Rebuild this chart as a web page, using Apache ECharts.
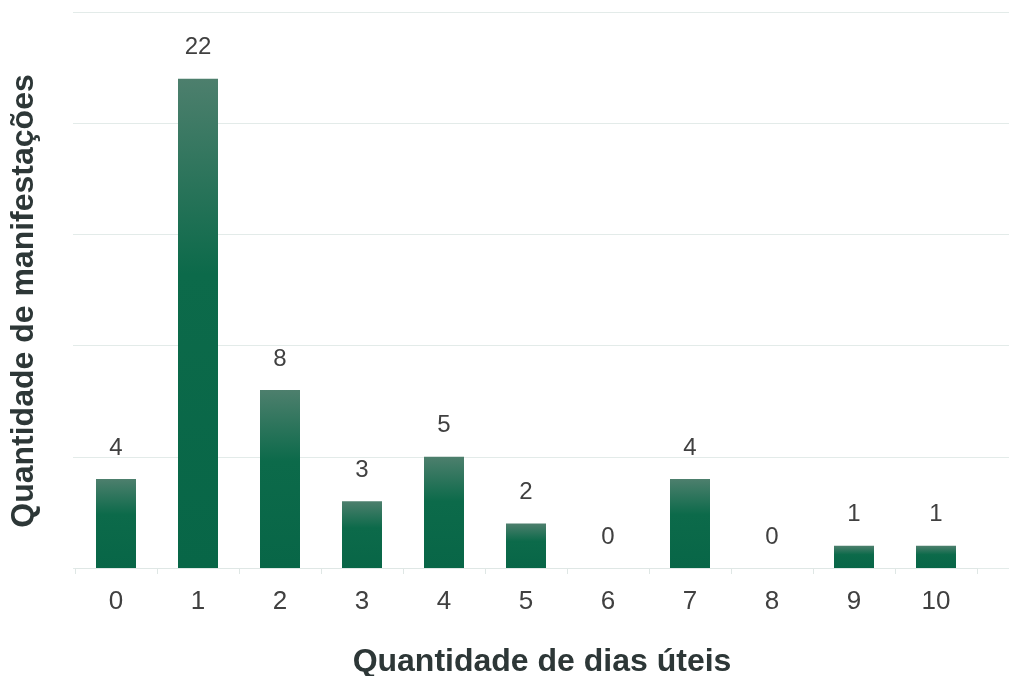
<!DOCTYPE html>
<html>
<head>
<meta charset="utf-8">
<script src="https://cdn.jsdelivr.net/npm/echarts@6/dist/echarts.min.js"></script>
<style>html,body{margin:0;padding:0;background:#fff;}#c{width:1009px;height:676px;}</style>
</head>
<body>
<div id="c"></div>
<script>
const categories = ['0','1','2','3','4','5','6','7','8','9','10'];
const values = [4, 22, 8, 3, 5, 2, 0, 4, 0, 1, 1];
const yTicks = [0, 5, 10, 15, 20, 25];

const chart = echarts.init(document.getElementById('c'));
const font = '"Liberation Sans", Arial, sans-serif';
chart.setOption({
  animation: false,
  backgroundColor: '#ffffff',
  grid: [
    {left: 75, top: 12, width: 902, height: 556, containLabel: false, outerBoundsMode: 'none'},
    {left: 73, top: 12, right: 0, height: 556, containLabel: false, outerBoundsMode: 'none'}
  ],
  xAxis: [
    {
      type: 'category', gridIndex: 0, data: categories,
      axisLine: {show: true, lineStyle: {color: '#dfe7e5', width: 1}},
      axisTick: {show: true, length: 6, lineStyle: {color: '#dfe7e5'}},
      axisLabel: {color: '#404040', fontSize: 26, fontFamily: font, margin: 21},
      name: 'Quantidade de dias úteis', nameLocation: 'middle', nameGap: 78,
      nameTextStyle: {color: '#2d3737', fontSize: 32, fontWeight: 'bold', fontFamily: font, padding: [0, 0, 0, 32]}
    },
    {type: 'value', gridIndex: 1, show: false, min: 0, max: 1}
  ],
  yAxis: [
    {
      type: 'value', gridIndex: 0, min: yTicks[0], max: yTicks[yTicks.length-1], interval: yTicks[1]-yTicks[0],
      axisLine: {show: false}, axisTick: {show: false}, axisLabel: {show: false},
      splitLine: {show: false},
      name: 'Quantidade de manifestações', nameLocation: 'middle', nameGap: 35,
      nameTextStyle: {color: '#2d3737', fontSize: 32, fontWeight: 'bold', fontFamily: font, padding: [0, 22, 0, 0]}
    },
    {
      type: 'value', gridIndex: 1, min: yTicks[0], max: yTicks[yTicks.length-1], interval: yTicks[1]-yTicks[0],
      axisLine: {show: false}, axisTick: {show: false}, axisLabel: {show: false},
      splitLine: {show: true, lineStyle: {color: '#e3ebe9', width: 1}}
    }
  ],
  series: [{
    type: 'bar', xAxisIndex: 0, yAxisIndex: 0, data: values,
    barWidth: 40, z: 3,
    itemStyle: {
      color: new echarts.graphic.LinearGradient(0, 0, 0, 1, [
        {offset: 0, color: '#4d7f6d'},
        {offset: 0.4, color: '#0c6a4a'},
        {offset: 1, color: '#086647'}
      ])
    },
    label: {show: true, position: 'top', distance: 19, color: '#404040', fontSize: 24, fontFamily: font}
  }]
});
</script>
</body>
</html>
